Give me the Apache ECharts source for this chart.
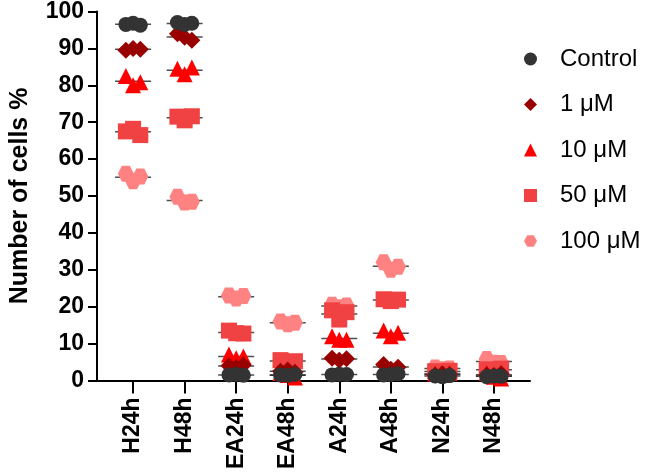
<!DOCTYPE html>
<html>
<head>
<meta charset="utf-8">
<script src="https://cdn.jsdelivr.net/npm/echarts@6/dist/echarts.min.js"></script>
<style>
  html, body { margin: 0; padding: 0; background: #fff; }
  #container { width: 646px; height: 472px; }
</style>
</head>
<body>
<div id="container"></div>
<script>
// categories on the x axis
var categories = ['H24h', 'H48h', 'EA24h', 'EA48h', 'A24h', 'A48h', 'N24h', 'N48h'];
var seriesNames = ['Control', '1 \u03bcM', '10 \u03bcM', '50 \u03bcM', '100 \u03bcM'];

// three replicates per category
var control = [[96.5, 96.8, 96.3], [97, 96.5, 96.8], [1.5, 1.6, 1.4], [1.5, 1.4, 1.6], [1.5, 1.7, 1.6], [1.5, 1.6, 1.8], [1.2, 1, 1.3], [1, 1.2, 1.1]];
var um1 = [[89.5, 90, 89.8], [94, 93, 92.2], [4, 3.5, 4.2], [2.5, 2.8, 2.2], [6, 5.5, 5.9], [4.3, 3, 3.6], [1.5, 1.8, 1.6], [1.5, 1.3, 1.8]];
var um10 = [[82.5, 80, 80.8], [84.5, 83, 84.8], [7, 6, 6.5], [2, 1.5, 0.8], [12, 11, 11], [13.5, 12, 12.9], [1.8, 1.5, 2], [2, 1, 0.5]];
var um50 = [[67.5, 68.2, 66.5], [71.5, 70.5, 71.6], [13.5, 12.8, 12.7], [5.5, 5, 5.2], [19, 16.5, 18.5], [22, 21.5, 21.9], [2.5, 2.2, 2.6], [3, 2.5, 3.2]];
var um100 = [[56, 54, 55.3], [49.8, 48.2, 48.4], [23, 22.2, 22.9], [16, 15.2, 15.6], [20.5, 19.8, 20.3], [32, 30, 30.8], [3.5, 3, 3.2], [5.8, 4.8, 4.7]];

var allValues = [control, um1, um10, um50, um100];
var colors = ['#333333', '#990000', '#ff0000', '#f04242', '#ff8282'];
var symbols = ['circle', 'diamond', 'triangle', 'rect',
    'path://M25,5 L75,5 L100,50 L75,95 L25,95 L0,50 Z'];
var sizes = [15, 17, 16, 16, 16];
var jitter = [-0.14, 0, 0.14];

var font = 'Liberation Sans, Arial, Helvetica, sans-serif';

var series = [];
var means = [];
allValues.forEach(function (vals) {
    vals.forEach(function (reps, i) {
        var m = reps.reduce(function (a, b) { return a + b; }, 0) / reps.length;
        means.push([i + 1, m]);
    });
});
series.push({
    name: 'mean',
    type: 'scatter',
    data: means,
    symbol: 'rect',
    symbolSize: [36, 1.5],
    itemStyle: { color: '#222' },
    silent: true,
    z: 1
});

// draw the highest dose first so Control ends on top
for (var s = allValues.length - 1; s >= 0; s--) {
    var pts = [];
    allValues[s].forEach(function (reps, i) {
        reps.forEach(function (v, k) {
            pts.push([i + 1 + jitter[k], v]);
        });
    });
    series.push({
        name: seriesNames[s],
        type: 'scatter',
        data: pts,
        symbol: symbols[s],
        symbolSize: sizes[s],
        itemStyle: { color: colors[s], opacity: 1 },
        z: 2
    });
}

var myChart = echarts.init(document.getElementById('container'));
var option = {
    animation: false,
    color: colors,
    grid: { left: 90, right: 116, top: 10, bottom: 91 },
    legend: {
        data: seriesNames.map(function (n, i) {
            return { name: n, icon: symbols[i], itemStyle: { color: colors[i] } };
        }),
        orient: 'vertical',
        left: 519,
        top: 42,
        itemWidth: 13,
        itemHeight: 13,
        itemGap: 21.5,
        textStyle: { fontFamily: font, fontSize: 24, color: '#000', padding: [0, 0, 0, 18] }
    },
    xAxis: {
        type: 'value',
        min: 0.3,
        max: 8.7,
        splitLine: { show: false },
        axisLine: { lineStyle: { color: '#000', width: 2 } },
        axisTick: { show: true, customValues: [1, 2, 3, 4, 5, 6, 7, 8], length: 13, lineStyle: { color: '#000', width: 2 } },
        axisLabel: {
            customValues: [1, 2, 3, 4, 5, 6, 7, 8],
            rotate: 90,
            margin: 17,
            fontFamily: font,
            fontSize: 23,
            fontWeight: 'bold',
            color: '#000',
            formatter: function (v) { return categories[Math.round(v) - 1]; }
        }
    },
    yAxis: {
        type: 'value',
        min: 0,
        max: 100,
        interval: 10,
        name: 'Number of cells %',
        nameLocation: 'middle',
        nameGap: 64,
        nameTextStyle: { fontFamily: font, fontSize: 25, fontWeight: 'bold', color: '#000' },
        splitLine: { show: false },
        axisLine: { show: true, lineStyle: { color: '#000', width: 2 } },
        axisTick: { show: true, length: 9, lineStyle: { color: '#000', width: 2 } },
        axisLabel: { margin: 13, fontFamily: font, fontSize: 23, fontWeight: 'bold', color: '#000' }
    },
    series: series
};
myChart.setOption(option);
</script>
</body>
</html>
